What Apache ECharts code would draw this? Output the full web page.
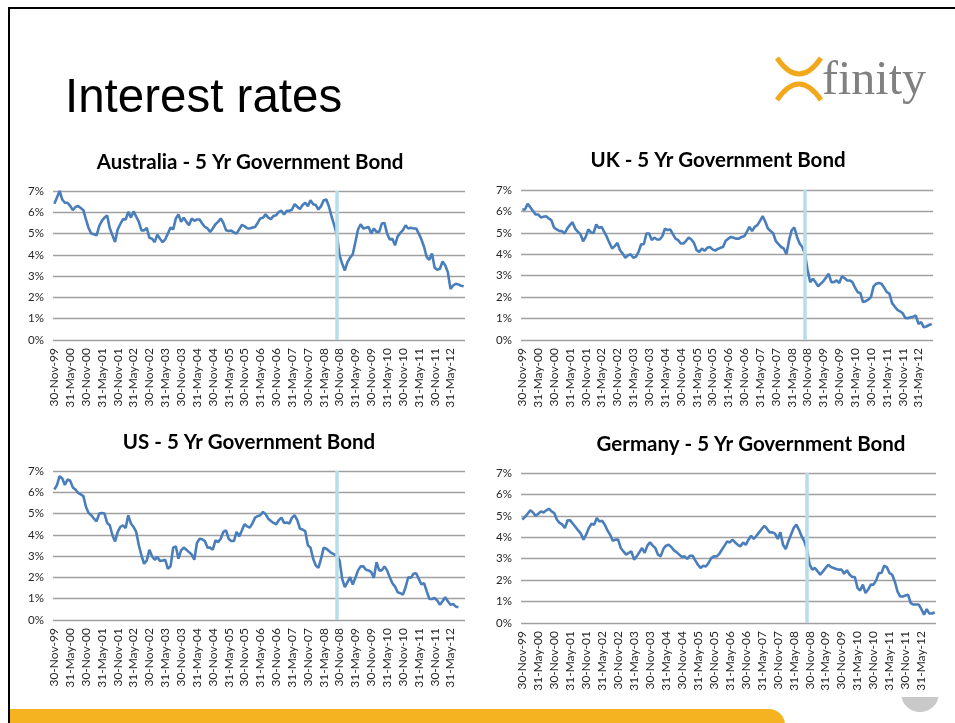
<!DOCTYPE html>
<html><head><meta charset="utf-8">
<script src="https://cdn.jsdelivr.net/npm/echarts@6/dist/echarts.min.js"></script>
<style>html,body{margin:0;padding:0;background:#fff;overflow:hidden}#c{width:955px;height:723px}</style>
</head><body><div id="c"></div>
<script>
// ---- categories: month-end dates, Nov-1999 .. Oct-2012 ----
const startYear = 1999, startMonth = 10, monthCount = 156;
const monthNames = ['Jan','Feb','Mar','Apr','May','Jun','Jul','Aug','Sep','Oct','Nov','Dec'];
const categories = [];
for (let i = 0; i < monthCount; i++) {
  const d = new Date(Date.UTC(startYear, startMonth + i + 1, 0));
  categories.push(d.getUTCDate() + '-' + monthNames[d.getUTCMonth()] + '-' + String(d.getUTCFullYear()).slice(2));
}
const crisisDate = '31-Oct-08';

const chartTitles = ['Australia - 5 Yr Government Bond', 'UK - 5 Yr Government Bond',
                     'US - 5 Yr Government Bond', 'Germany - 5 Yr Government Bond'];

const australia = [6.4,6.7,7.0,6.6,6.45,6.45,6.3,6.1,6.25,6.3,6.2,6.1,5.65,5.25,5.0,4.97,4.92,5.35,5.6,5.75,
5.85,5.25,4.92,4.6,5.2,5.45,5.68,5.66,6.02,5.75,6.04,5.8,5.55,5.15,5.15,5.27,4.8,4.76,4.6,4.95,
4.76,4.6,4.73,5.0,5.28,5.2,5.7,5.9,5.55,5.75,5.55,5.39,5.71,5.6,5.66,5.66,5.47,5.31,5.24,5.08,
5.24,5.44,5.55,5.71,5.5,5.16,5.12,5.14,5.05,5.0,5.2,5.4,5.35,5.25,5.24,5.28,5.31,5.5,5.71,5.74,
5.9,5.75,5.68,5.83,5.86,6.02,6.07,5.9,6.07,6.07,6.13,6.38,6.26,6.15,6.34,6.45,6.29,6.57,6.38,6.34,
6.13,6.29,6.57,6.6,6.26,5.79,5.39,4.92,3.98,3.58,3.27,3.66,3.87,4.03,4.6,5.19,5.44,5.24,5.27,5.31,
5.0,5.24,5.08,5.08,5.47,5.5,5.0,4.72,4.76,4.45,4.87,5.03,5.16,5.39,5.24,5.27,5.24,5.24,5.0,4.72,
4.37,3.9,3.77,4.06,3.4,3.3,3.35,3.69,3.51,3.19,2.4,2.56,2.64,2.61,2.55,2.52];

const uk = [6.09,6.09,6.35,6.2,6.03,5.86,5.86,5.72,5.75,5.78,5.67,5.59,5.25,5.16,5.09,5.08,4.97,5.2,5.36,5.5,
5.2,5.05,4.94,4.61,4.81,5.16,5.02,5.0,5.39,5.23,5.28,5.05,4.81,4.53,4.27,4.38,4.53,4.19,4.03,3.84,
3.95,4.0,3.84,3.88,4.11,4.47,4.47,4.97,4.97,4.66,4.78,4.69,4.69,4.84,5.2,5.13,5.16,4.94,4.73,4.66,
4.5,4.5,4.63,4.78,4.69,4.53,4.19,4.11,4.27,4.16,4.3,4.34,4.23,4.17,4.25,4.3,4.34,4.63,4.73,4.81,
4.77,4.73,4.73,4.81,4.84,5.05,5.28,5.09,5.28,5.36,5.56,5.78,5.52,5.2,5.09,4.97,4.61,4.47,4.34,4.27,
4.0,4.66,5.13,5.25,4.81,4.5,4.34,4.03,3.28,2.7,2.86,2.7,2.5,2.63,2.75,2.91,3.09,2.7,2.7,2.78,
2.66,2.97,2.89,2.78,2.78,2.7,2.44,2.23,2.19,1.77,1.81,1.88,2.0,2.5,2.63,2.66,2.63,2.44,2.23,2.16,
1.72,1.56,1.41,1.34,1.25,1.03,1.02,1.06,1.09,1.14,0.75,0.83,0.59,0.63,0.7,0.75];

const us = [6.13,6.34,6.76,6.65,6.34,6.6,6.54,6.23,6.13,5.97,5.9,5.82,5.31,5.03,4.92,4.76,4.64,5.0,5.03,5.0,
4.56,4.45,3.98,3.69,4.14,4.37,4.45,4.32,4.92,4.53,4.37,4.14,3.51,3.03,2.64,2.8,3.3,3.0,2.83,2.96,
2.77,2.8,2.83,2.4,2.52,3.4,3.46,2.88,3.27,3.4,3.3,3.19,3.08,2.83,3.62,3.82,3.79,3.71,3.4,3.4,
3.3,3.74,3.66,3.82,4.14,4.21,3.82,3.71,3.71,4.14,3.93,4.2,4.5,4.4,4.34,4.53,4.81,4.88,4.92,5.08,
4.97,4.76,4.65,4.56,4.5,4.69,4.81,4.56,4.58,4.53,4.81,4.92,4.69,4.29,4.25,4.18,3.51,3.4,2.88,2.56,
2.45,2.88,3.4,3.35,3.24,3.14,3.08,3.03,2.8,1.93,1.54,1.78,2.01,1.67,1.98,2.33,2.52,2.52,2.36,2.33,
2.25,1.98,2.72,2.33,2.33,2.52,2.33,2.01,1.73,1.57,1.3,1.26,1.19,1.54,2.01,1.98,2.17,2.2,1.93,1.67,
1.73,1.35,0.99,0.99,1.04,0.91,0.72,0.88,1.07,0.88,0.72,0.75,0.63,0.6];

const germany = [4.82,4.95,5.1,5.26,5.16,5.0,5.1,5.21,5.16,5.26,5.33,5.21,5.13,4.82,4.67,4.6,4.43,4.79,4.79,4.63,
4.48,4.32,4.17,3.89,4.12,4.43,4.63,4.59,4.9,4.74,4.77,4.59,4.32,4.12,3.84,3.89,3.89,3.5,3.34,3.19,
3.27,3.34,2.96,3.11,3.3,3.5,3.27,3.61,3.76,3.61,3.5,3.19,3.11,3.45,3.61,3.65,3.55,3.39,3.3,3.19,
3.08,3.11,2.99,3.14,3.14,2.92,2.72,2.57,2.67,2.64,2.8,3.03,3.11,3.1,3.22,3.42,3.61,3.81,3.76,3.89,
3.76,3.65,3.58,3.76,3.65,3.89,4.07,3.92,4.07,4.23,4.39,4.54,4.39,4.23,4.23,4.17,3.92,4.23,3.65,3.45,
3.81,4.12,4.43,4.59,4.35,4.04,3.81,3.42,2.72,2.49,2.57,2.41,2.26,2.41,2.57,2.72,2.61,2.57,2.52,2.49,
2.49,2.3,2.46,2.26,2.15,2.15,1.63,1.52,1.79,1.4,1.56,1.79,1.79,1.99,2.33,2.33,2.67,2.61,2.33,2.26,
1.94,1.48,1.24,1.24,1.28,1.32,0.93,0.86,0.86,0.86,0.65,0.39,0.65,0.44,0.44,0.5];

const seriesData = [australia, uk, us, germany];

// ---- layout ----
const grids = [
  {left: 53,  top: 191, width: 412, height: 149},
  {left: 521, top: 190, width: 412, height: 150},
  {left: 53,  top: 471, width: 412, height: 149},
  {left: 521, top: 473, width: 415, height: 150}
];
const titlePos = [[250,162],[718,160],[249,442],[751,444]];

const FONT = 'Lato, "Open Sans", sans-serif';
const chart = echarts.init(document.getElementById('c'), null, {renderer: 'canvas'});

const xAxes = [], yAxes = [], series = [], graphics = [];
grids.forEach((g, i) => {
  xAxes.push({
    type: 'category', gridIndex: i, data: categories, boundaryGap: true,
    axisLine: {show: false}, axisTick: {show: false},
    axisLabel: {interval: 5, rotate: 90, fontSize: 12, color: '#262626', fontFamily: FONT, margin: 8},
    splitLine: {show: false}
  });
  yAxes.push({
    type: 'value', gridIndex: i, min: 0, max: 7, interval: 1,
    axisLine: {show: false}, axisTick: {show: false},
    axisLabel: {formatter: '{value}%', fontSize: 11.5, color: '#262626', fontFamily: FONT, margin: 9},
    splitLine: {show: true, lineStyle: {color: '#A0A0A0', width: 1.4}}
  });
  series.push({
    type: 'line', xAxisIndex: i, yAxisIndex: i, data: seriesData[i],
    symbol: 'none', smooth: false,
    lineStyle: {color: '#4A7EBB', width: 2.6},
    markLine: {
      silent: true, symbol: ['none','none'], label: {show: false},
      lineStyle: {color: '#B7DEE8', width: 3.5, type: 'solid'},
      data: [{xAxis: crisisDate}]
    }
  });
  graphics.push({
    type: 'text', x: titlePos[i][0], y: titlePos[i][1],
    style: {text: chartTitles[i], fill: '#000', font: 'bold 20.5px ' + FONT,
            textAlign: 'center', textVerticalAlign: 'middle'}
  });
});

// page-number badge: lower segment of a circle
const badge = [];
for (let k = 0; k <= 40; k++) {
  const t = Math.PI * k / 40;
  const px = 920 + 19 * Math.cos(t), py = 693 + 19 * Math.sin(t);
  badge.push([px, Math.max(py, 697)]);
}

// slide decoration
graphics.push(
  {type: 'rect', shape: {x: 8, y: 7, width: 960, height: 2}, style: {fill: '#000'}},
  {type: 'rect', shape: {x: 8, y: 7, width: 2, height: 730}, style: {fill: '#000'}},
  {type: 'text', x: 65, y: 99, style: {text: 'Interest rates', fill: '#000',
    font: '47.5px "Liberation Sans", Arial, sans-serif', textVerticalAlign: 'middle'}},
  // logo
  {type: 'bezierCurve', shape: {x1: 777, y1: 58, cpx1: 799, cpy1: 90, x2: 821, y2: 58},
   style: {stroke: '#F2A81D', lineWidth: 5, fill: null}},
  {type: 'bezierCurve', shape: {x1: 777, y1: 100, cpx1: 799, cpy1: 68, x2: 821, y2: 100},
   style: {stroke: '#F2A81D', lineWidth: 5, fill: null}},
  {type: 'text', x: 822, y: 81, style: {text: 'finity', fill: '#808080',
    font: '48px "Liberation Serif", "DejaVu Serif", serif', textVerticalAlign: 'middle'}},
  // bottom bar
  {type: 'rect', shape: {x: 10, y: 709, width: 775, height: 30, r: [0, 16, 0, 0]}, style: {fill: '#F6B321'}},
  {type: 'polygon', shape: {points: badge}, style: {fill: '#C9C9C9'}}
);

chart.setOption({
  animation: false,
  backgroundColor: '#fff',
  grid: grids,
  xAxis: xAxes,
  yAxis: yAxes,
  series: series,
  graphic: graphics
});
</script>
</body></html>
